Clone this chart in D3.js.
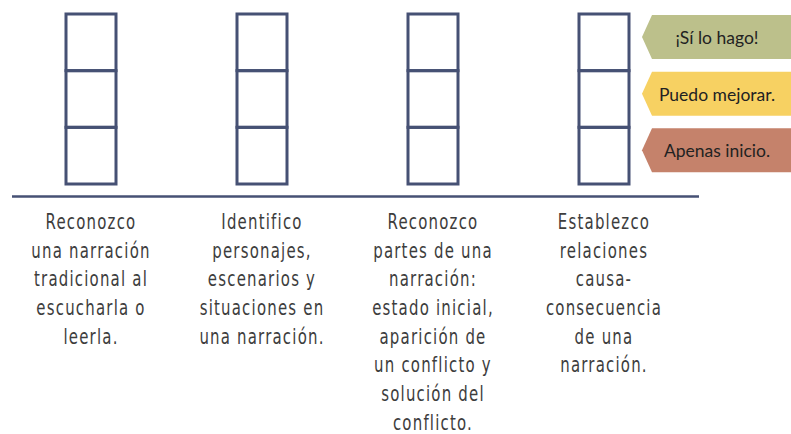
<!DOCTYPE html>
<html><head><meta charset="utf-8">
<script src="https://cdn.jsdelivr.net/npm/d3@7"></script>
<style>body{margin:0;background:#fff}svg{display:block}</style>
</head><body>
<svg id="c" width="791" height="434"></svg>
<script>
const categories = ["c1","c2","c3","c4"];
const categoryLines = [
  ["Reconozco","una narración","tradicional al","escucharla o","leerla."],
  ["Identifico","personajes,","escenarios y","situaciones en","una narración."],
  ["Reconozco","partes de una","narración:","estado inicial,","aparición de","un conflicto y","solución del","conflicto."],
  ["Establezco","relaciones","causa-","consecuencia","de una","narración."]
];
const levels = ["¡Sí lo hago!","Puedo mejorar.","Apenas inicio."];
const levelColors = ["#bcc08b","#f7d162","#c5826b"];

const svg = d3.select("#c");
const ink = "#465174";
const x = d3.scalePoint().domain(categories).range([91, 604]);
const y = d3.scaleBand().domain(levels).range([14, 184]);
const boxW = 50;

// boxes
const g = svg.append("g");
categories.forEach(c => {
  g.selectAll(null).data(levels).enter().append("rect")
    .attr("x", x(c) - boxW/2)
    .attr("y", d => y(d))
    .attr("width", boxW)
    .attr("height", y.bandwidth())
    .attr("fill", "none")
    .attr("stroke", ink)
    .attr("stroke-width", 3);
});

// baseline
svg.append("line").attr("x1", 12).attr("x2", 699).attr("y1", 196.5).attr("y2", 196.5)
  .attr("stroke", ink).attr("stroke-width", 2.5);

// labels (narrow, tall lettering)
categories.forEach((c, i) => {
  const t = svg.append("text")
    .attr("transform", `translate(${x(c)},0) scale(0.81,1)`)
    .attr("x", 0).attr("y", 229)
    .attr("text-anchor", "middle")
    .attr("font-family", "'DejaVu Sans Condensed','DejaVu Sans',sans-serif")
    .attr("font-size", 20.5)
    .attr("letter-spacing", 1.5)
    .attr("fill", "#3d3d3d");
  categoryLines[i].forEach((ln, j) => {
    t.append("tspan").attr("x", 0).attr("dy", j === 0 ? 0 : 28.7).text(ln);
  });
});

// legend tags
const tagL = 652, tip = 642, tagR = 795;
const tg = svg.selectAll(".tag").data(levels).enter().append("g");
tg.append("path")
  .attr("d", d => {
    const top = y(d) + 1, h = 44, bot = top + h, mid = top + h/2;
    return `M${tip},${mid}L${tagL},${top}L${tagR},${top}L${tagR},${bot}L${tagL},${bot}Z`;
  })
  .attr("fill", (d, i) => levelColors[i]);
tg.append("text")
  .attr("x", 717).attr("y", d => y(d) + 1 + 29)
  .attr("text-anchor", "middle")
  .attr("font-family", "Lato, 'Open Sans', sans-serif")
  .attr("font-size", 17.5)
  .attr("fill", "#222")
  .text(d => d);
</script>
</body></html>
